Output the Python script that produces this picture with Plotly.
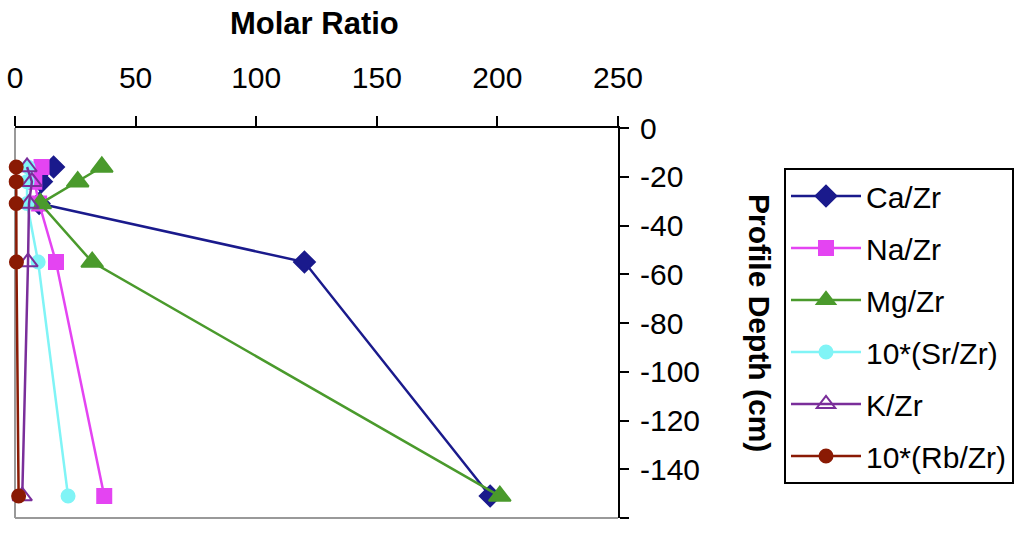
import plotly.graph_objects as go

depth = [-16, -22, -31, -55, -151]
ca_zr = [16, 11, 10, 120, 197]
na_zr = [11, 8, 10, 17, 37]
mg_zr = [36, 26, 10.5, 32, 201]
sr_zr10 = [5.4, 5, 5, 9.6, 22]
k_zr = [5, 7, 5.8, 5.4, 3]
rb_zr10 = [0.5, 0.5, 0.5, 0.6, 1.5]

x_ticks = [0, 50, 100, 150, 200, 250]
y_ticks = [0, -20, -40, -60, -80, -100, -120, -140, -160]
y_ticktext = ["0", "-20", "-40", "-60", "-80", "-100", "-120", "-140", "-160"]

series = [
    ("Ca/Zr", ca_zr, "#1A1A8C", "diamond", 16),
    ("Na/Zr", na_zr, "#E444F2", "square", 14),
    ("Mg/Zr", mg_zr, "#4A9A2C", "triangle-up", 19),
    ("10*(Sr/Zr)", sr_zr10, "#80F4F6", "circle", 13),
    ("K/Zr", k_zr, "#7A2E9A", "triangle-up-open", 17),
    ("10*(Rb/Zr)", rb_zr10, "#8A1A04", "circle", 13),
]

FONT = "Liberation Sans, Arial, sans-serif"

fig = go.Figure()
for name, vals, col, sym, size in series:
    fig.add_trace(go.Scatter(
        x=vals, y=depth, name=name, mode="lines+markers",
        line=dict(color=col, width=2.5),
        marker=dict(symbol=sym, size=size, color=col,
                    line=dict(color=col, width=2)),
        cliponaxis=False, legendgroup=name,
    ))

fig.update_layout(
    width=1026, height=534,
    margin=dict(l=15, r=408, t=128, b=16),
    paper_bgcolor="white", plot_bgcolor="white",
    font=dict(family=FONT, size=30, color="black"),
    showlegend=True,
    legend=dict(
        x=784 / 1026, y=1 - 168 / 534, xref="container", yref="container",
        bordercolor="black", borderwidth=2,
        font=dict(size=30), tracegroupgap=10,
        itemwidth=70, maxheight=360,
        xanchor="left", yanchor="top",
    ),
    xaxis=dict(
        side="top", range=[0, 250], tickvals=x_ticks,
        showgrid=False, zeroline=False, automargin=False,
        showline=True, linecolor="black", linewidth=2,
        ticks="outside", ticklen=10, tickwidth=2, tickcolor="black",
        ticklabelstandoff=16,
        tickfont=dict(size=30),
    ),
    yaxis=dict(
        side="right", range=[-160, 0], tickvals=y_ticks, ticktext=y_ticktext,
        showgrid=False, zeroline=False, automargin=False,
        showline=True, linecolor="black", linewidth=2,
        ticks="outside", ticklen=9, tickwidth=2, tickcolor="black",
        ticklabelstandoff=5,
        tickfont=dict(size=30),
    ),
    shapes=[
        dict(type="line", xref="paper", yref="paper", x0=0, x1=0, y0=0, y1=1,
             line=dict(color="#999999", width=2), layer="below"),
        dict(type="line", xref="paper", yref="paper", x0=0, x1=1, y0=0, y1=0,
             line=dict(color="#999999", width=2), layer="below"),
    ],
    annotations=[
        dict(text="<b>Molar Ratio</b>", xref="paper", yref="paper",
             x=(314 - 15) / 603, y=1 + (128 - 23) / 390, xanchor="center", yanchor="middle",
             showarrow=False, font=dict(size=31)),
        dict(text="<b>Profile Depth (cm)</b>", xref="paper", yref="paper",
             x=1 + (760 - 618) / 603, y=0.5, xanchor="center", yanchor="middle",
             textangle=90, showarrow=False, font=dict(size=30)),
    ],
)

fig.write_html("out.html")
